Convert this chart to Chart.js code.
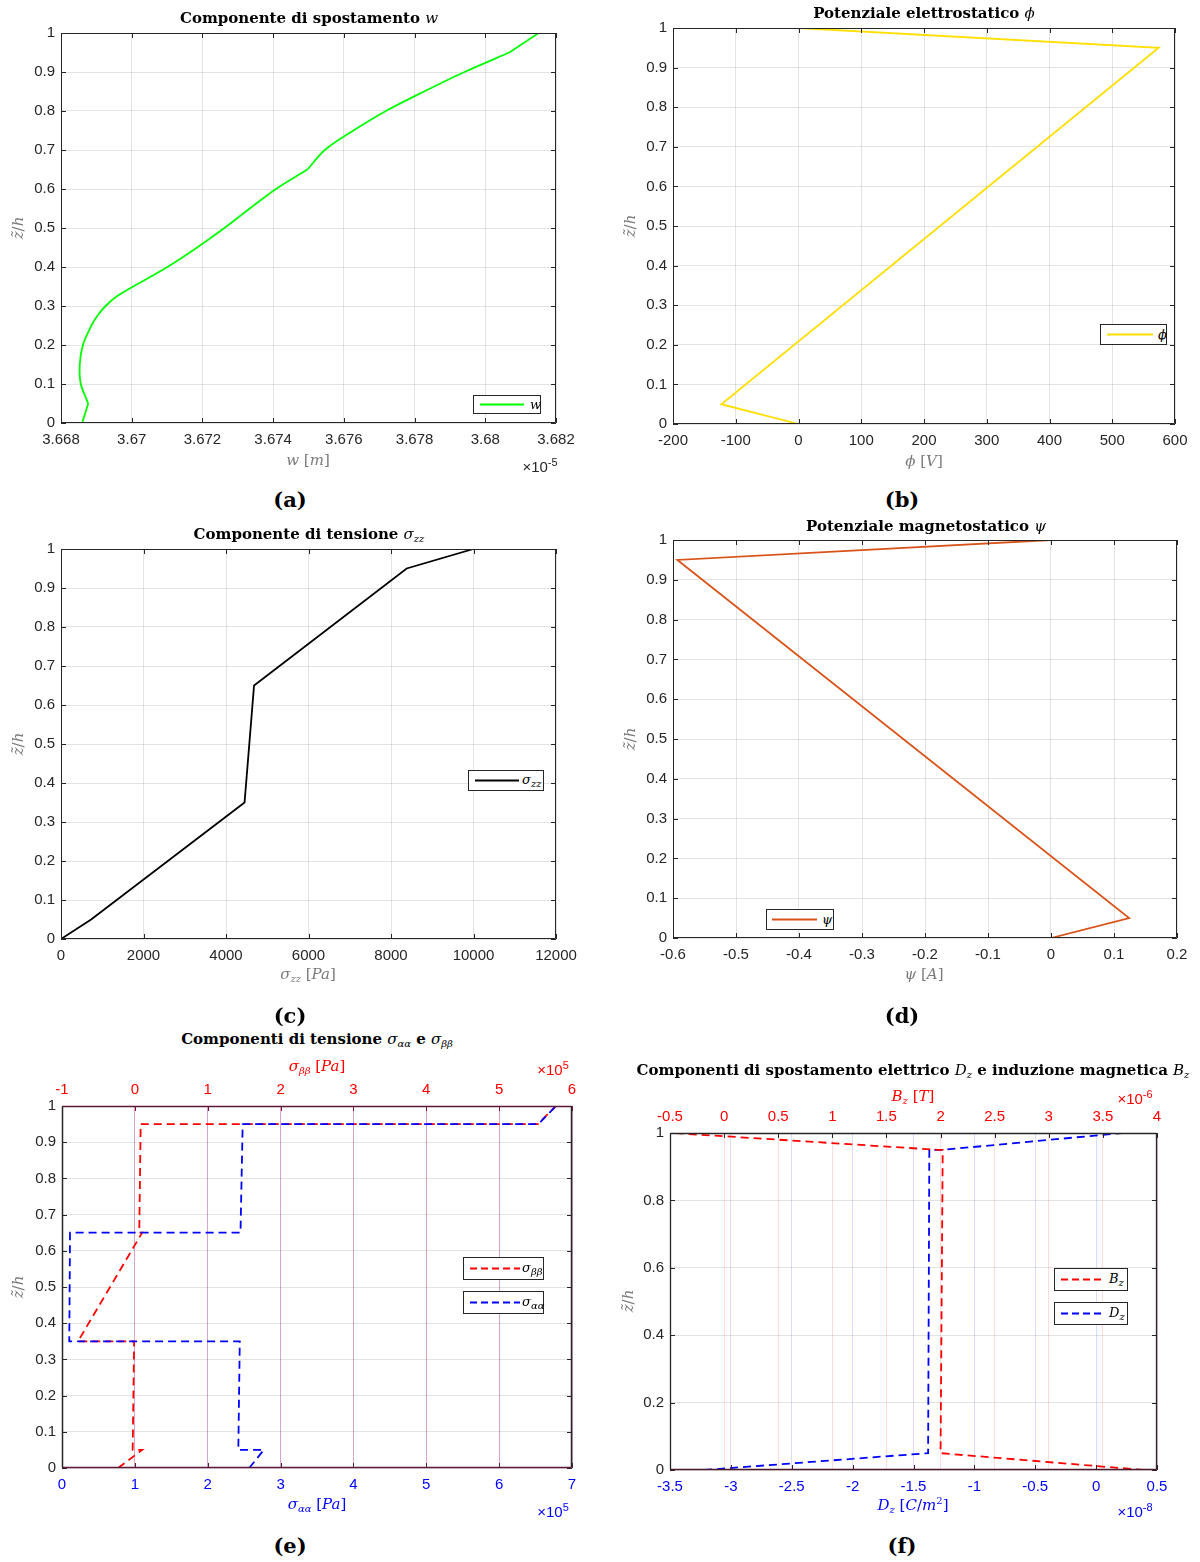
<!DOCTYPE html>
<html>
<head>
<meta charset="utf-8">
<script src="https://cdn.jsdelivr.net/npm/chart.js@4.4.1/dist/chart.umd.min.js"></script>
<style>
  html, body { margin: 0; padding: 0; background: #fff; }
  body { position: relative; width: 1200px; height: 1562px; overflow: hidden; font-family: "Liberation Sans", Arial, sans-serif; }
  canvas.cv { position: absolute; }
  .t { position: absolute; white-space: nowrap; transform: translate(-50%, -50%); line-height: 1; }
  .title { font-family: "DejaVu Serif", serif; font-weight: bold; font-size: 15px; color: #000; }
  .m { font-family: "DejaVu Serif", serif; font-style: italic; font-weight: normal; }
  .r { font-family: "DejaVu Serif", serif; font-style: normal; font-weight: normal; }
  .lab { font-family: "DejaVu Serif", serif; font-size: 15px; color: #7a7a7a; }
  .ylab { transform: translate(-50%, -50%) rotate(-90deg); }
  .exp { font-family: "Liberation Sans", Arial, sans-serif; font-size: 15px; color: #262626; }
  .exp sup { font-size: 11px; vertical-align: 6px; }
  .sub { font-size: 10px; vertical-align: -3px; }
  .letter { font-family: "DejaVu Serif", serif; font-weight: bold; font-size: 21px; color: #000; }
  .leg { position: absolute; background: #fff; border: 1px solid #262626; box-sizing: border-box; }
  .leg svg { position: absolute; left: 0; top: 0; }
  .leg .lt { position: absolute; top: 50%; transform: translateY(-52%); font-family: "DejaVu Serif", serif; font-style: italic; font-size: 13px; color: #000; white-space: nowrap; }
</style>
</head>
<body>
<script>
// ---------------- profiles through the thickness (z̃/h) ----------------

// (a) transverse displacement w, in units of 1e-5 m
const zW  = [0, 0.05, 0.10, 0.15, 0.20, 0.25, 0.275, 0.30, 0.325, 0.35, 0.40, 0.45, 0.50, 0.55, 0.60, 0.65, 0.70, 0.75, 0.80, 0.85, 0.90, 0.95, 1.00];
const wE5 = [3.66860, 3.66877, 3.66856, 3.66853, 3.66862, 3.66886, 3.66903, 3.66926, 3.66958, 3.67004, 3.67101, 3.67185, 3.67262, 3.67334, 3.67408, 3.67497, 3.67546, 3.67627, 3.67719, 3.67827, 3.67941, 3.68068, 3.68151];
const layerBounds = [0, 0.05, 0.35, 0.65, 0.95, 1];

// (b) electrostatic potential phi [V]
const zPhi = [0, 0.05, 0.95, 1];
const phiV = [0, -123, 574, 0];

// (c) normal stress sigma_zz [Pa]
const zSzz  = [0, 0.05, 0.35, 0.65, 0.95, 1];
const szzPa = [0, 730, 4450, 4680, 8380, 10000];

// (d) magnetostatic potential psi [A]
const zPsi = [0, 0.05, 0.95, 1];
const psiA = [0, 0.124, -0.593, 0];

// (e) in-plane stresses, in units of 1e5 Pa
const zStress  = [0, 0.05, 0.05, 0.35, 0.35, 0.65, 0.65, 0.95, 0.95, 1];
const sAlphaE5 = [2.57, 2.77, 2.42, 2.44, 0.10, 0.11, 2.45, 2.48, 6.54, 6.78];
const sBetaE5  = [-0.23, 0.10, -0.03, -0.01, -0.78, 0.10, 0.06, 0.08, 5.53, 5.78];

// (f) electric displacement D_z (1e-8 C/m^2) and magnetic induction B_z (1e-6 T)
const zField = [0, 0.05, 0.95, 0.95, 1];
const dzE8   = [-3.22, -1.38, -1.37, -1.26, 0.215];
const bzE6   = [3.88, 2.00, 2.02, 1.98, -0.47];

// ---------------- tick labels ----------------
const ticksZ10   = [0, 0.1, 0.2, 0.3, 0.4, 0.5, 0.6, 0.7, 0.8, 0.9, 1];
const ticksZ5    = [0, 0.2, 0.4, 0.6, 0.8, 1];
const ticksW     = [3.668, 3.670, 3.672, 3.674, 3.676, 3.678, 3.680, 3.682];
const ticksPhi   = [-200, -100, 0, 100, 200, 300, 400, 500, 600];
const ticksSzz   = [0, 2000, 4000, 6000, 8000, 10000, 12000];
const ticksPsi   = [-0.6, -0.5, -0.4, -0.3, -0.2, -0.1, 0, 0.1, 0.2];
const ticksAlpha = [0, 1, 2, 3, 4, 5, 6, 7];
const ticksBeta  = [-1, 0, 1, 2, 3, 4, 5, 6];
const ticksDz    = [-3.5, -3, -2.5, -2, -1.5, -1, -0.5, 0, 0.5];
const ticksBz    = [-0.5, 0, 0.5, 1, 1.5, 2, 2.5, 3, 3.5, 4];

// ---------------- helpers ----------------
const DARK = '#262626';
const GRID = 'rgba(38,38,38,0.13)';
const fmt = v => String(+v.toFixed(6));
const pts = (xs, ys) => xs.map((x, i) => ({ x: x, y: ys[i] }));

function addText(html, x, y, cls, style) {
  const d = document.createElement('div');
  d.className = 't ' + (cls || '');
  d.style.left = x + 'px';
  d.style.top = y + 'px';
  if (style) d.style.cssText += style;
  d.innerHTML = html;
  document.body.appendChild(d);
  return d;
}

function addLegend(x, y, w, h, color, dashed, label, lineX0, lineX1, textX) {
  const d = document.createElement('div');
  d.className = 'leg';
  d.style.left = x + 'px'; d.style.top = y + 'px';
  d.style.width = w + 'px'; d.style.height = h + 'px';
  const cy = (h - 2) / 2;
  d.innerHTML =
    '<svg width="' + w + '" height="' + h + '"><line x1="' + lineX0 + '" y1="' + cy + '" x2="' + lineX1 + '" y2="' + cy +
    '" stroke="' + color + '" stroke-width="2"' + (dashed ? ' stroke-dasharray="7,4"' : '') + '/></svg>' +
    '<span class="lt" style="left:' + textX + 'px">' + label + '</span>';
  document.body.appendChild(d);
}

// axes box with inward tick marks, drawn over the curves
const framePlugin = {
  id: 'frame',
  afterDatasetsDraw(chart, args, opts) {
    const { ctx, chartArea: a } = chart;
    const tl = 5;
    ctx.save();
    ctx.lineWidth = 1;
    const line = (x0, y0, x1, y1, c) => {
      ctx.strokeStyle = c; ctx.beginPath(); ctx.moveTo(x0, y0); ctx.lineTo(x1, y1); ctx.stroke();
    };
    const ys = chart.scales.y;
    ys.ticks.forEach(t => {
      const py = Math.round(ys.getPixelForValue(t.value)) + 0.5;
      line(a.left, py, a.left + tl, py, DARK);
      line(a.right, py, a.right - tl, py, DARK);
    });
    const xb = chart.scales.x;
    const xt = chart.scales.x2;
    xb.ticks.forEach(t => {
      const px = Math.round(xb.getPixelForValue(t.value)) + 0.5;
      line(px, a.bottom, px, a.bottom - tl, opts.bottomTick || DARK);
      if (!xt) line(px, a.top, px, a.top + tl, DARK);
    });
    if (xt) xt.ticks.forEach(t => {
      const px = Math.round(xt.getPixelForValue(t.value)) + 0.5;
      line(px, a.top, px, a.top + tl, opts.topTick || DARK);
    });
    const L = Math.round(a.left) + 0.5, R = Math.round(a.right) - 0.5;
    const T = Math.round(a.top) + 0.5, B = Math.round(a.bottom) - 0.5;
    ctx.lineWidth = opts.width || 1;
    line(L, T, R, T, opts.top || DARK);
    line(L, B, R, B, opts.bottom || DARK);
    line(L, T, L, B, opts.left || DARK);
    line(R, T, R, B, opts.right || DARK);
    ctx.restore();
  }
};

function axisCfg(ticks, pos, fitSize, color, gridColor, pad) {
  return {
    type: 'linear',
    position: pos,
    min: ticks[0],
    max: ticks[ticks.length - 1],
    afterBuildTicks: s => { s.ticks = ticks.map(v => ({ value: v })); },
    afterFit: s => {
      if (pos === 'left') s.width = fitSize; else s.height = fitSize;
    },
    grid: { color: gridColor, lineWidth: 1, drawTicks: false },
    border: { display: false },
    ticks: {
      color: color,
      font: { family: '"Liberation Sans", Arial, sans-serif', size: 15 },
      padding: pad,
      autoSkip: false,
      maxRotation: 0,
      callback: v => fmt(v)
    }
  };
}

function makePanel(p) {
  const [bx, by, bw, bh] = p.box;
  const [L, T, R, B] = p.area;
  const cv = document.createElement('canvas');
  cv.className = 'cv';
  cv.width = bw; cv.height = bh;
  cv.style.left = bx + 'px'; cv.style.top = by + 'px';
  cv.style.width = bw + 'px'; cv.style.height = bh + 'px';
  document.body.appendChild(cv);

  const scales = {
    x: axisCfg(p.xTicks, 'bottom', by + bh - B, p.xColor || DARK, p.xGrid || GRID, 8),
    y: axisCfg(p.yTicks, 'left', L - bx, DARK, GRID, 6)
  };
  if (p.x2Ticks) scales.x2 = axisCfg(p.x2Ticks, 'top', T - by, p.x2Color, p.x2Grid, 7);

  new Chart(cv, {
    type: 'scatter',
    data: { datasets: p.datasets },
    options: {
      responsive: false,
      animation: false,
      events: [],
      layout: { padding: { left: 0, bottom: 0, top: p.x2Ticks ? 0 : T - by, right: bx + bw - R } },
      plugins: { legend: { display: false }, tooltip: { enabled: false }, frame: p.frame || {} },
      scales: scales
    },
    plugins: [framePlugin]
  });
}

function curve(data, color, opts) {
  return Object.assign({
    data: data, showLine: true, borderColor: color, backgroundColor: color,
    borderWidth: 1.8, pointRadius: 0, tension: 0, fill: false
  }, opts || {});
}

// (a) one smooth piece per layer, kinks kept at the interfaces
const wLayers = [];
for (let k = 0; k < layerBounds.length - 1; k++) {
  const seg = [];
  zW.forEach((z, i) => { if (z >= layerBounds[k] - 1e-9 && z <= layerBounds[k + 1] + 1e-9) seg.push({ x: wE5[i], y: z }); });
  wLayers.push(curve(seg, '#00ff00', { tension: 0.3 }));
}

makePanel({ box: [0, 0, 600, 475], area: [61, 33, 556, 423], xTicks: ticksW, yTicks: ticksZ10, datasets: wLayers });
makePanel({ box: [600, 0, 600, 475], area: [673, 28, 1175, 424], xTicks: ticksPhi, yTicks: ticksZ10,
  datasets: [curve(pts(phiV, zPhi), '#ffdf00')] });
makePanel({ box: [0, 520, 600, 475], area: [61, 549, 556, 939], xTicks: ticksSzz, yTicks: ticksZ10,
  datasets: [curve(pts(szzPa, zSzz), '#000000')] });
makePanel({ box: [600, 520, 600, 475], area: [673, 540, 1177, 938], xTicks: ticksPsi, yTicks: ticksZ10,
  datasets: [curve(pts(psiA, zPsi), '#d95319')] });

makePanel({ box: [0, 1075, 600, 445], area: [62, 1106, 572, 1468], xTicks: ticksAlpha, yTicks: ticksZ10,
  xColor: '#0000ff', xGrid: 'rgba(0,0,255,0.2)', x2Ticks: ticksBeta, x2Color: '#ff0000', x2Grid: 'rgba(255,0,0,0.2)',
  frame: { top: '#5c1a3a', bottom: '#5c1a3a', topTick: '#8a1030', bottomTick: '#5c1a3a', width: 1.5 },
  datasets: [
    curve(pts(sAlphaE5, zStress), '#0000ff', { borderDash: [8, 5], xAxisID: 'x' }),
    curve(pts(sBetaE5, zStress), '#ff0000', { borderDash: [8, 5], xAxisID: 'x2' })
  ] });

makePanel({ box: [600, 1100, 600, 420], area: [670, 1133, 1157, 1470], xTicks: ticksDz, yTicks: ticksZ5,
  xColor: '#0000ff', xGrid: 'rgba(0,0,255,0.14)', x2Ticks: ticksBz, x2Color: '#ff0000', x2Grid: 'rgba(255,0,0,0.14)',
  frame: { top: '#262626', bottom: '#4a1a2c', topTick: '#262626', bottomTick: '#4a1a2c', width: 1.3 },
  datasets: [
    curve(pts(bzE6, zField), '#ff0000', { borderDash: [8, 5], xAxisID: 'x2' }),
    curve(pts(dzE8, zField), '#0000ff', { borderDash: [8, 5], xAxisID: 'x' })
  ] });

// ---------------- titles, axis labels, legends ----------------
const zLabel = '<span class="m">z&#771;</span><span class="r">/</span><span class="m">h</span>';

addText('Componente di spostamento <span class="m">w</span>', 309, 18, 'title');
addText('<span class="m">w</span> <span class="r">[</span><span class="m">m</span><span class="r">]</span>', 308, 460, 'lab');
addText(zLabel, 18, 228, 'lab ylab');
addText('×10<sup>-5</sup>', 540, 465, 'exp');
addText('(a)', 290, 499, 'letter');

addText('Potenziale elettrostatico <span class="m">&#981;</span>', 924, 13, 'title');
addText('<span class="m">&#981;</span> <span class="r">[</span><span class="m">V</span><span class="r">]</span>', 924, 461, 'lab');
addText(zLabel, 630, 226, 'lab ylab');
addText('(b)', 902, 499, 'letter');

addText('Componente di tensione <span class="m">σ<span class="sub">zz</span></span>', 309, 535, 'title');
addText('<span class="m">σ<span class="sub">zz</span></span> <span class="r">[</span><span class="m">Pa</span><span class="r">]</span>', 308, 975, 'lab');
addText(zLabel, 18, 744, 'lab ylab');
addText('(c)', 290, 1015, 'letter');

addText('Potenziale magnetostatico <span class="m">ψ</span>', 926, 526, 'title');
addText('<span class="m">ψ</span> <span class="r">[</span><span class="m">A</span><span class="r">]</span>', 924, 974, 'lab');
addText(zLabel, 630, 739, 'lab ylab');
addText('(d)', 902, 1015, 'letter');

addText('Componenti di tensione <span class="m">σ<span class="sub">αα</span></span> e <span class="m">σ<span class="sub">ββ</span></span>', 317, 1040, 'title');
addText('<span class="m">σ<span class="sub">ββ</span></span> <span class="r">[</span><span class="m">Pa</span><span class="r">]</span>', 317, 1067, 'lab', 'color:#ff0000');
addText('<span class="m">σ<span class="sub">αα</span></span> <span class="r">[</span><span class="m">Pa</span><span class="r">]</span>', 317, 1505, 'lab', 'color:#0000ff');
addText('×10<sup>5</sup>', 553, 1068, 'exp', 'color:#ff0000');
addText('×10<sup>5</sup>', 553, 1510, 'exp', 'color:#0000ff');
addText(zLabel, 18, 1287, 'lab ylab');
addText('(e)', 290, 1545, 'letter');

addText('Componenti di spostamento elettrico <span class="m">D<span class="sub">z</span></span> e induzione magnetica <span class="m">B<span class="sub">z</span></span>', 913, 1071, 'title');
addText('<span class="m">B<span class="sub">z</span></span> <span class="r">[</span><span class="m">T</span><span class="r">]</span>', 913, 1097, 'lab', 'color:#ff0000');
addText('<span class="m">D<span class="sub">z</span></span> <span class="r">[</span><span class="m">C</span><span class="r">/</span><span class="m">m</span><sup style="font-size:10px">2</sup><span class="r">]</span>', 913, 1505, 'lab', 'color:#0000ff');
addText('×10<sup>-6</sup>', 1135, 1097, 'exp', 'color:#ff0000');
addText('×10<sup>-8</sup>', 1135, 1510, 'exp', 'color:#0000ff');
addText(zLabel, 628, 1301, 'lab ylab');
addText('(f)', 902, 1545, 'letter');

addLegend(473, 395, 68, 19, '#00ff00', false, 'w', 6, 50, 56);
addLegend(1100, 324, 67, 21, '#ffdf00', false, '&#981;', 6, 52, 57);
addLegend(468, 770, 76, 21, '#000000', false, 'σ<span class="sub">zz</span>', 6, 50, 53);
addLegend(766, 909, 68, 21, '#d95319', false, 'ψ', 5, 50, 55);
addLegend(463, 1257, 81, 23, '#ff0000', true, 'σ<span class="sub">ββ</span>', 6, 56, 58);
addLegend(463, 1291, 81, 23, '#0000ff', true, 'σ<span class="sub">αα</span>', 6, 56, 58);
addLegend(1054, 1268, 74, 23, '#ff0000', true, 'B<span class="sub">z</span>', 6, 50, 54);
addLegend(1054, 1302, 74, 23, '#0000ff', true, 'D<span class="sub">z</span>', 6, 50, 54);
</script>
</body>
</html>
